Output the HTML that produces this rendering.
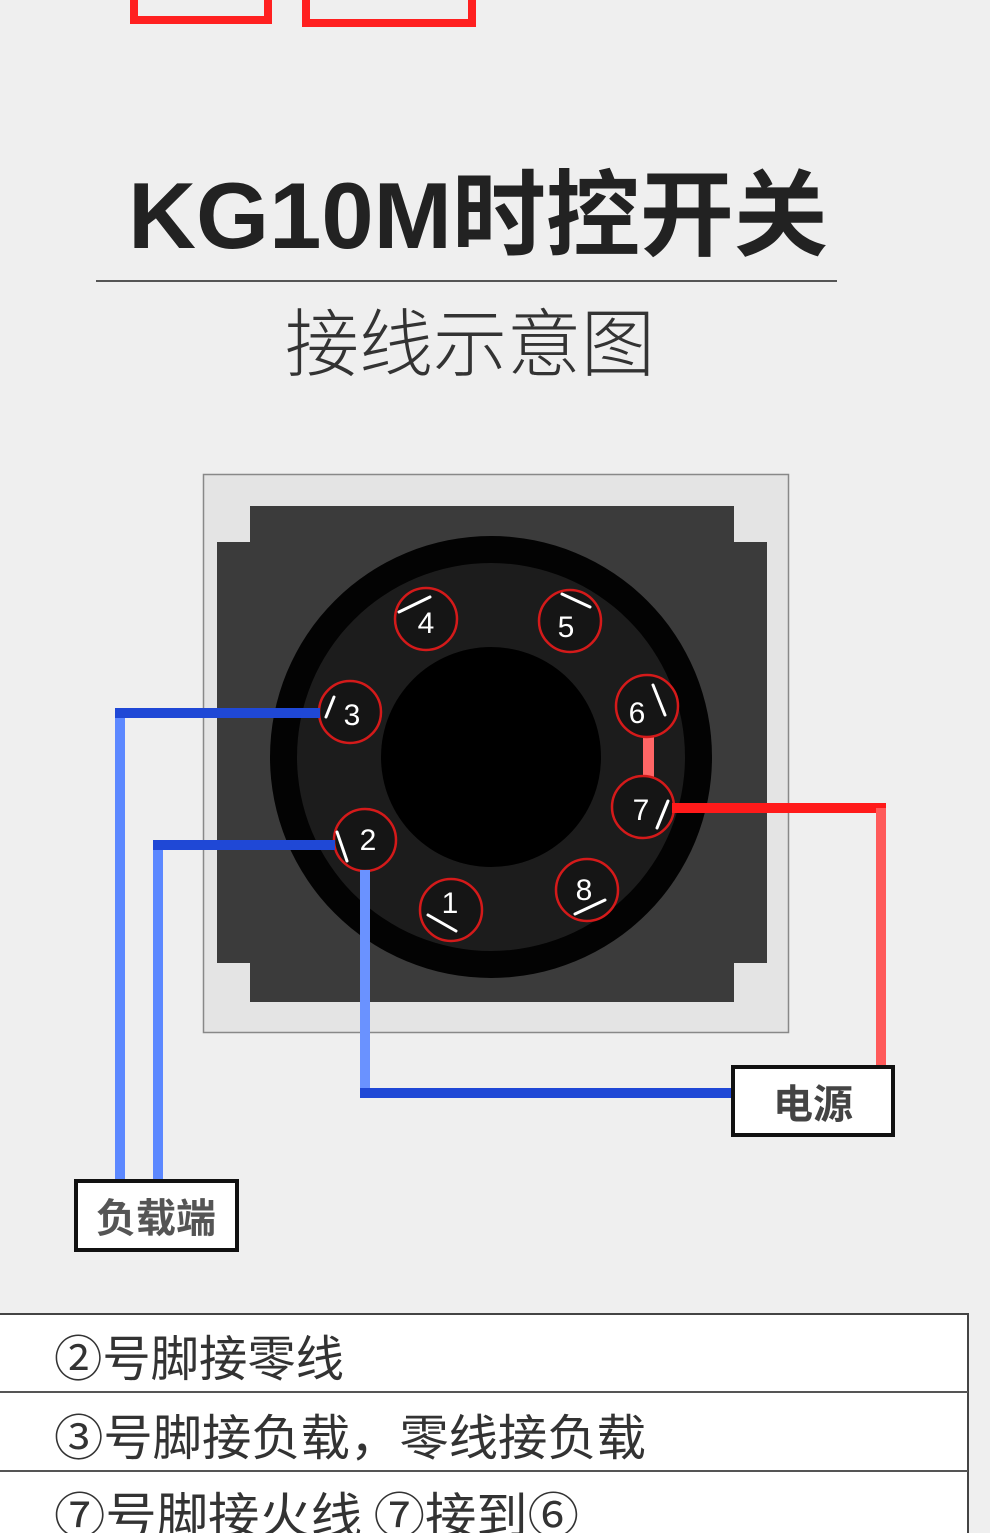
<!DOCTYPE html>
<html><head><meta charset="utf-8"><style>
html,body{margin:0;padding:0;background:#efefef;}
svg{display:block}
</style></head><body>
<svg width="990" height="1533" viewBox="0 0 990 1533" xmlns="http://www.w3.org/2000/svg" font-family="Liberation Sans, Noto Sans CJK SC, sans-serif">
<rect width="990" height="1533" fill="#efefef"/>
<path d="M134 0 V20 H268 V0" fill="none" stroke="#ff2020" stroke-width="8"/>
<path d="M306 0 V23 H472 V0" fill="none" stroke="#ff2020" stroke-width="8"/>
<text x="478" y="248" text-anchor="middle" font-size="94" font-weight="bold" fill="#222" font-family="Liberation Sans, Noto Sans CJK SC, sans-serif">KG10M时控开关</text>
<line x1="96" y1="281" x2="837" y2="281" stroke="#555" stroke-width="2"/>
<text x="470" y="370" text-anchor="middle" font-size="74" fill="#333" font-family="Noto Sans CJK SC, sans-serif" font-weight="300">接线示意图</text>
<rect x="203.5" y="474.5" width="585" height="558" fill="#e4e4e4" stroke="#888" stroke-width="1.5"/>
<rect x="250" y="506" width="484" height="496" fill="#3b3b3b"/>
<rect x="217" y="542" width="550" height="421" fill="#3b3b3b"/>
<circle cx="491" cy="757" r="221" fill="#030303"/>
<circle cx="491" cy="757" r="194" fill="#1c1c1c"/>
<circle cx="491" cy="757" r="110" fill="#000"/>
<rect x="643" y="735" width="11" height="42" fill="#ff6666"/>
<g fill="#151515" stroke="#d41a1a" stroke-width="2.5">
<circle cx="426" cy="619" r="31"/>
<circle cx="570" cy="621" r="31"/>
<circle cx="350" cy="712" r="31"/>
<circle cx="647" cy="706" r="31"/>
<circle cx="643" cy="807" r="31"/>
<circle cx="365" cy="840" r="31"/>
<circle cx="451" cy="910" r="31"/>
<circle cx="587" cy="890" r="31"/>
</g>
<g fill="#fff" font-size="30" text-anchor="middle" font-family="Liberation Sans, sans-serif">
<text x="426" y="633">4</text>
<text x="566" y="637">5</text>
<text x="352" y="725">3</text>
<text x="637" y="723">6</text>
<text x="641" y="820">7</text>
<text x="368" y="850">2</text>
<text x="450" y="913">1</text>
<text x="584" y="900">8</text>
</g>
<g stroke="#fff" stroke-width="3" stroke-linecap="round">
<line x1="399" y1="612" x2="430" y2="597"/>
<line x1="562" y1="594" x2="590" y2="607"/>
<line x1="326" y1="717" x2="334" y2="697"/>
<line x1="653" y1="685" x2="665" y2="715"/>
<line x1="657" y1="828" x2="668" y2="801"/>
<line x1="337" y1="832" x2="347" y2="861"/>
<line x1="428" y1="915" x2="456" y2="931"/>
<line x1="575" y1="914" x2="605" y2="900"/>
</g>
<g fill="none" stroke-width="10">
<path d="M120 1182 V713" stroke="#5c88ff"/>
<path d="M115 713 H320" stroke="#1f48d6"/>
<path d="M158 1182 V845" stroke="#5c88ff"/>
<path d="M153 845 H335" stroke="#1f48d6"/>
<path d="M365 870 V1093" stroke="#6a92ff"/>
<path d="M360 1093 H733" stroke="#1f48d6"/>
<path d="M672 808 H886" stroke="#ff1a1a"/>
<path d="M881 808 V1066" stroke="#ff5a5a"/>
</g>
<rect x="733" y="1067" width="160" height="68" fill="#fff" stroke="#111" stroke-width="4"/>
<text x="813" y="1118" text-anchor="middle" font-size="40" font-weight="bold" fill="#444" font-family="Noto Sans CJK SC, sans-serif">电源</text>
<rect x="76" y="1181" width="161" height="69" fill="#fff" stroke="#111" stroke-width="4"/>
<text x="156" y="1232" text-anchor="middle" font-size="40" font-weight="bold" fill="#555" font-family="Noto Sans CJK SC, sans-serif">负载端</text>
<rect x="-2" y="1314" width="970" height="225" fill="#fff" stroke="#444" stroke-width="2"/>
<line x1="0" y1="1392" x2="968" y2="1392" stroke="#555" stroke-width="2"/>
<line x1="0" y1="1471" x2="968" y2="1471" stroke="#555" stroke-width="2"/>
<g font-size="49" fill="#333" font-family="Noto Sans CJK SC, sans-serif" font-weight="normal">
<text x="54" y="1376" textLength="290" lengthAdjust="spacingAndGlyphs">②号脚接零线</text>
<text x="54" y="1455" textLength="592" lengthAdjust="spacingAndGlyphs">③号脚接负载，零线接负载</text>
<text x="54" y="1533" textLength="525" lengthAdjust="spacingAndGlyphs">⑦号脚接火线 ⑦接到⑥</text>
</g>
</svg>
</body></html>
